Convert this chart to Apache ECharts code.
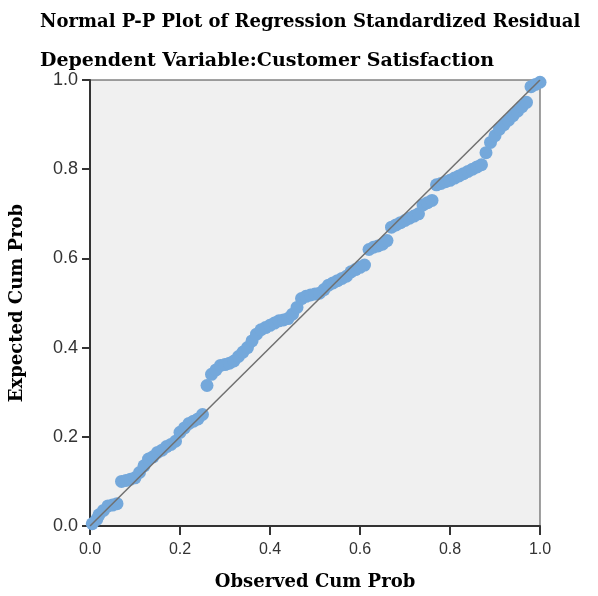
<!DOCTYPE html>
<html><head><meta charset="utf-8">
<script src="https://cdn.jsdelivr.net/npm/echarts@6/dist/echarts.min.js"></script>
<style>html,body{margin:0;padding:0;background:#fff}#c{width:598px;height:596px}</style>
</head><body><div id="c"></div>
<script>
const titleText = "Normal P-P Plot of Regression Standardized Residual";
const subtitleText = "Dependent Variable:Customer Satisfaction";
const xAxisName = "Observed Cum Prob";
const yAxisName = "Expected Cum Prob";
const tickValues = [0.0, 0.2, 0.4, 0.6, 0.8, 1.0];
const observed = [0.005,0.015,0.02,0.03,0.04,0.05,0.06,0.07,0.08,0.09,0.10,0.11,0.12,0.13,0.14,0.15,0.16,0.17,0.18,0.19,0.20,0.21,0.22,0.23,0.24,0.25,0.26,0.27,0.28,0.29,0.30,0.31,0.32,0.33,0.34,0.35,0.36,0.37,0.38,0.39,0.40,0.41,0.42,0.43,0.44,0.45,0.46,0.47,0.48,0.49,0.50,0.51,0.52,0.53,0.54,0.55,0.56,0.57,0.58,0.59,0.60,0.61,0.62,0.63,0.64,0.65,0.66,0.67,0.68,0.69,0.70,0.71,0.72,0.73,0.74,0.75,0.76,0.77,0.78,0.79,0.80,0.81,0.82,0.83,0.84,0.85,0.86,0.87,0.88,0.89,0.90,0.91,0.92,0.93,0.94,0.95,0.96,0.97,0.98,0.99,1.00];
const expected = [0.005,0.015,0.025,0.035,0.045,0.047,0.05,0.10,0.102,0.105,0.108,0.12,0.135,0.15,0.155,0.165,0.17,0.178,0.183,0.19,0.21,0.22,0.23,0.235,0.24,0.25,0.315,0.34,0.35,0.36,0.362,0.365,0.37,0.38,0.39,0.40,0.415,0.43,0.44,0.445,0.45,0.455,0.46,0.462,0.465,0.475,0.49,0.51,0.515,0.518,0.52,0.522,0.53,0.54,0.545,0.55,0.555,0.56,0.57,0.575,0.58,0.585,0.62,0.625,0.628,0.632,0.64,0.67,0.675,0.68,0.685,0.69,0.695,0.70,0.72,0.725,0.73,0.765,0.768,0.772,0.775,0.78,0.785,0.79,0.795,0.80,0.805,0.81,0.837,0.86,0.875,0.89,0.90,0.91,0.92,0.93,0.94,0.95,0.985,0.99,0.995];
const refLine = [[0,0],[1,1]];

const pts = observed.map((x,i)=>[x, expected[i]]);
const chart = echarts.init(document.getElementById('c'));
const serif = '"DejaVu Serif","Liberation Serif",serif';
const sans = '"Liberation Sans",Arial,sans-serif';
chart.setOption({
  animation:false,
  backgroundColor:'#fff',
  title:[
    {text:titleText,left:35,top:8,textStyle:{fontFamily:serif,fontWeight:'bold',fontSize:18,color:'#000'}},
    {text:subtitleText,left:35,top:47,textStyle:{fontFamily:serif,fontWeight:'bold',fontSize:19,color:'#000'}}
  ],
  grid:{left:90,right:58,top:80,bottom:67,show:true,backgroundColor:'#F0F0F0',borderColor:'#444',borderWidth:1},
  xAxis:{type:'value',min:0,max:1,interval:0.2,
    name:xAxisName,nameLocation:'middle',nameGap:47,
    nameTextStyle:{fontFamily:serif,fontWeight:'bold',fontSize:18,color:'#000'},
    axisLine:{show:true,lineStyle:{color:'#333',width:2}},
    axisTick:{show:true,length:9,lineStyle:{color:'#333',width:2}},
    axisLabel:{fontFamily:sans,fontSize:16,color:'#333',margin:16,formatter:v=>v.toFixed(1)},
    splitLine:{show:false}},
  yAxis:{type:'value',min:0,max:1,interval:0.2,
    name:yAxisName,nameLocation:'middle',nameGap:64,
    nameTextStyle:{fontFamily:serif,fontWeight:'bold',fontSize:18,color:'#000'},
    axisLine:{show:true,lineStyle:{color:'#333',width:2}},
    axisTick:{show:true,length:8,lineStyle:{color:'#333',width:2}},
    axisLabel:{fontFamily:sans,fontSize:18,color:'#333',margin:12,formatter:v=>v.toFixed(1)},
    splitLine:{show:false}},
  series:[
    {type:'line',data:refLine,symbol:'none',lineStyle:{color:'#707070',width:1.5},z:3},
    {type:'scatter',data:pts,symbolSize:13,itemStyle:{color:'#74A8DB',opacity:1},z:2}
  ]
});
</script></body></html>
